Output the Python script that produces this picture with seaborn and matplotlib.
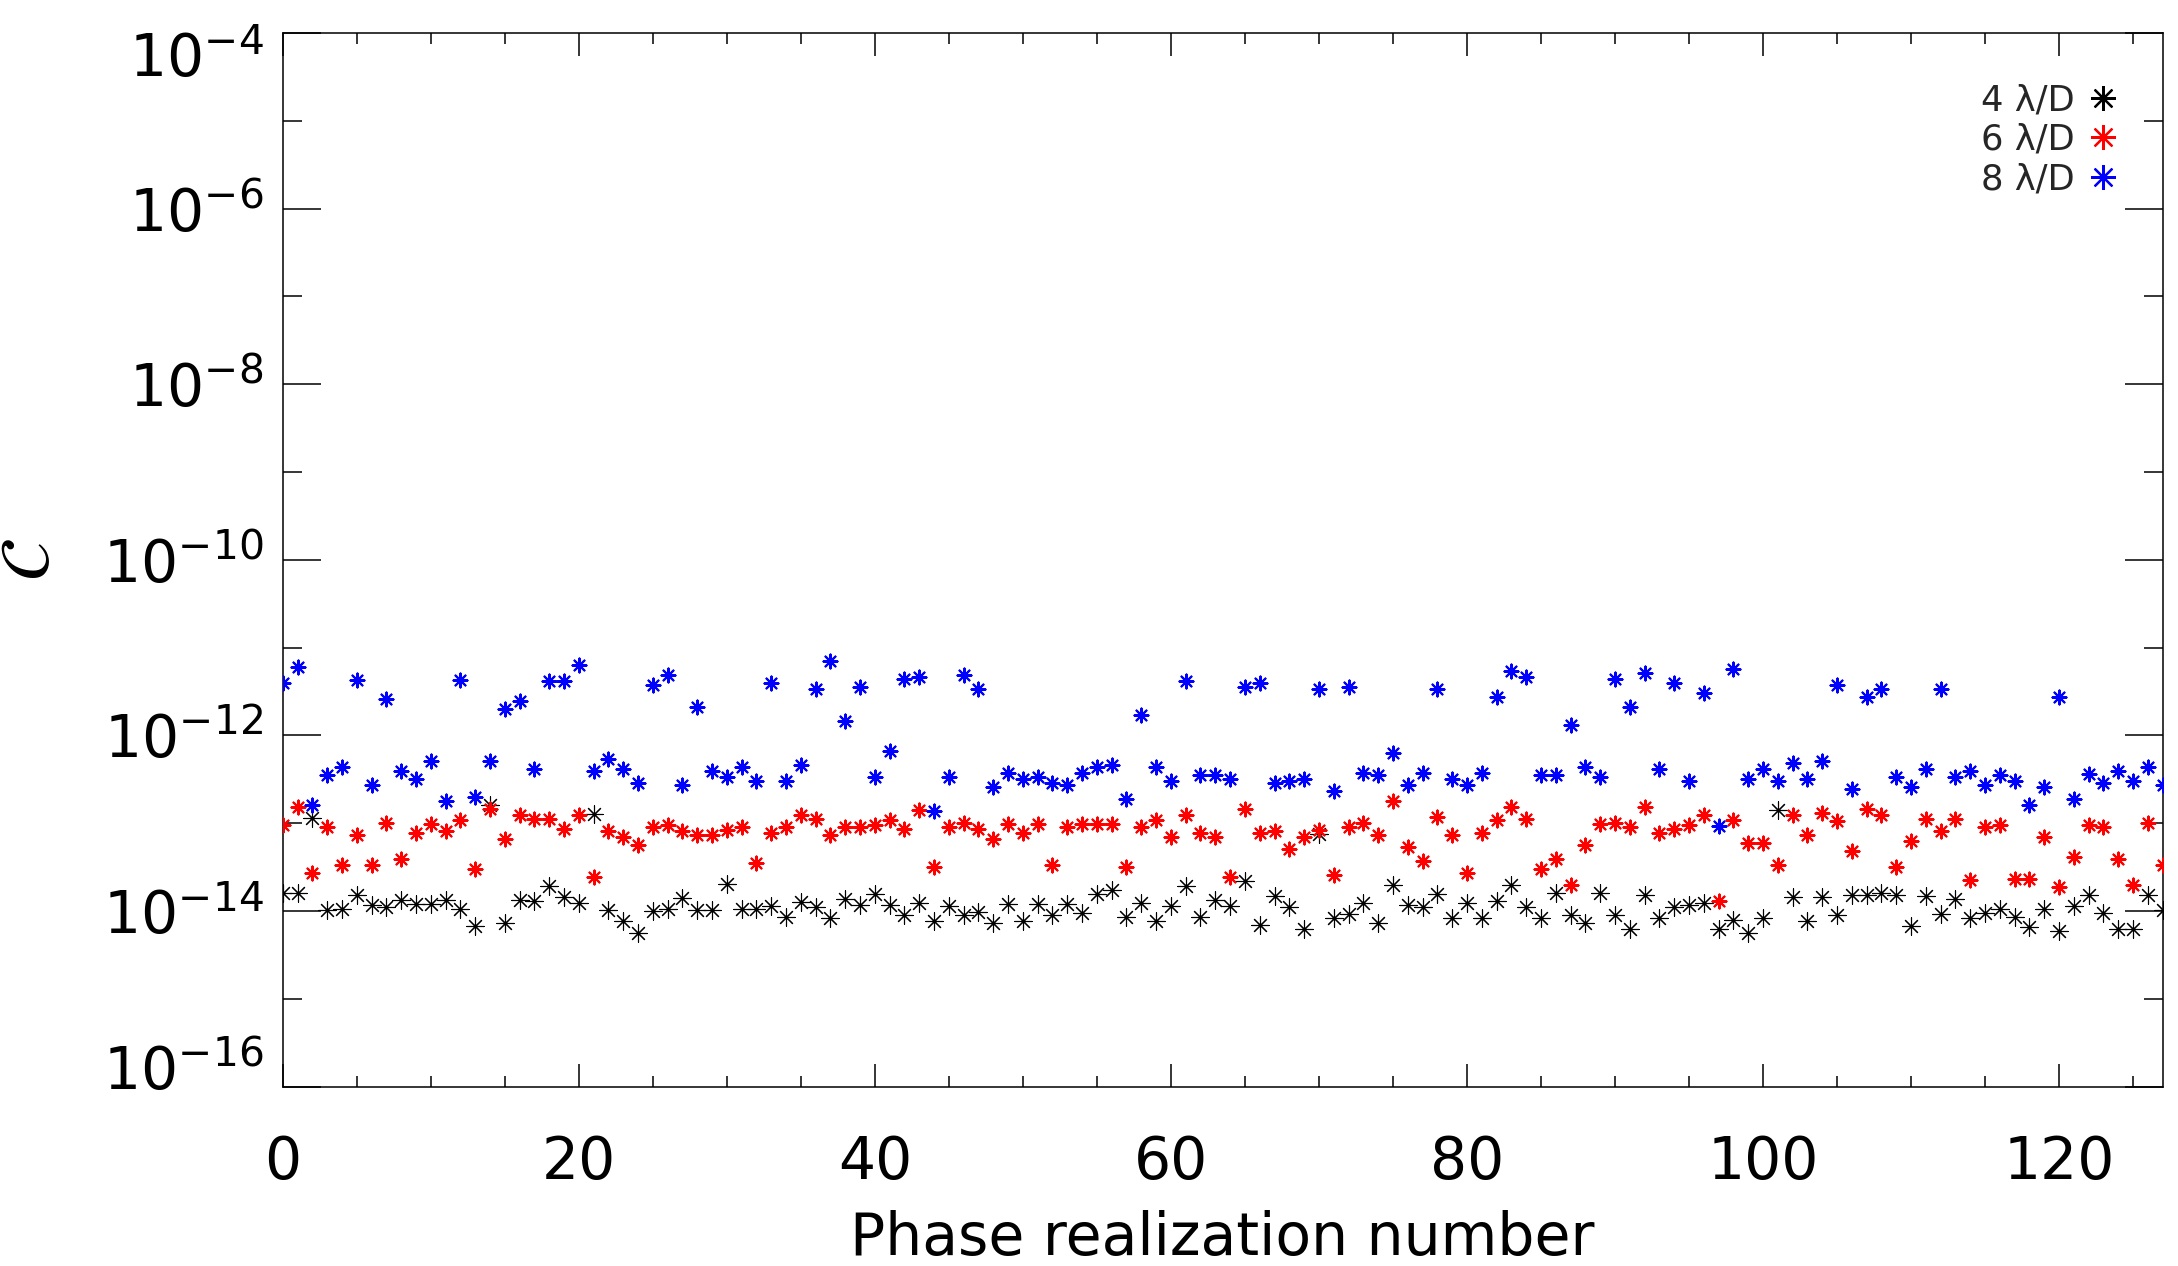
import numpy as np
import pandas as pd
import matplotlib
matplotlib.use("Agg")
import matplotlib.pyplot as plt
import matplotlib.transforms as mtransforms
import seaborn as sns
from matplotlib.ticker import FixedLocator, FixedFormatter, NullFormatter, MultipleLocator
from matplotlib.lines import Line2D

# ---------------- data ----------------
realization = list(range(128))

c_4 = [1.60e-14, 1.60e-14, 1.15e-13, 1.02e-14, 1.06e-14, 1.51e-14, 1.16e-14, 1.11e-14, 1.32e-14, 1.19e-14,
       1.19e-14, 1.32e-14, 1.06e-14, 6.7e-15, 1.60e-13, 7.35e-15, 1.34e-14, 1.29e-14, 1.92e-14, 1.44e-14,
       1.23e-14, 1.26e-13, 1.02e-14, 7.6e-15, 5.6e-15, 1.00e-14, 1.06e-14, 1.42e-14, 1.03e-14, 1.03e-14,
       2.05e-14, 1.06e-14, 1.06e-14, 1.14e-14, 8.5e-15, 1.26e-14, 1.11e-14, 8.2e-15, 1.38e-14, 1.18e-14,
       1.57e-14, 1.16e-14, 8.9e-15, 1.23e-14, 7.6e-15, 1.14e-14, 8.9e-15, 9.7e-15, 7.3e-15, 1.19e-14,
       7.6e-15, 1.19e-14, 8.9e-15, 1.19e-14, 9.5e-15, 1.55e-14, 1.72e-14, 8.5e-15, 1.23e-14, 7.6e-15,
       1.13e-14, 1.92e-14, 8.5e-15, 1.32e-14, 1.13e-14, 2.19e-14, 7.0e-15, 1.48e-14, 1.11e-14, 6.3e-15,
       7.59e-14, 8.2e-15, 9.3e-15, 1.23e-14, 7.35e-15, 1.99e-14, 1.16e-14, 1.11e-14, 1.55e-14, 8.2e-15,
       1.23e-14, 8.2e-15, 1.30e-14, 1.99e-14, 1.11e-14, 8.3e-15, 1.60e-14, 9.06e-15, 7.3e-15, 1.60e-14,
       9.06e-15, 6.3e-15, 1.53e-14, 8.3e-15, 1.11e-14, 1.16e-14, 1.24e-14, 6.2e-15, 7.8e-15, 5.6e-15,
       8.2e-15, 1.40e-13, 1.44e-14, 7.6e-15, 1.44e-14, 9.06e-15, 1.53e-14, 1.51e-14, 1.60e-14, 1.51e-14,
       6.7e-15, 1.47e-14, 9.3e-15, 1.38e-14, 8.3e-15, 9.55e-15, 1.06e-14, 8.5e-15, 6.6e-15, 1.06e-14,
       5.9e-15, 1.14e-14, 1.51e-14, 9.55e-15, 6.3e-15, 6.3e-15, 1.51e-14, 1.02e-14]

c_6 = [9.4e-14, 1.53e-13, 2.70e-14, 9.0e-14, 3.31e-14, 7.26e-14, 3.31e-14, 1.01e-13, 3.94e-14, 7.78e-14,
       9.7e-14, 8.13e-14, 1.08e-13, 3.03e-14, 1.46e-13, 6.53e-14, 1.25e-13, 1.10e-13, 1.10e-13, 8.5e-14,
       1.25e-13, 2.43e-14, 8.13e-14, 6.95e-14, 5.58e-14, 9.0e-14, 9.6e-14, 8.13e-14, 7.26e-14, 7.26e-14,
       8.28e-14, 9.0e-14, 3.52e-14, 7.78e-14, 9.0e-14, 1.25e-13, 1.10e-13, 7.26e-14, 9.0e-14, 9.0e-14,
       9.6e-14, 1.08e-13, 8.5e-14, 1.40e-13, 3.16e-14, 9.0e-14, 1.01e-13, 8.65e-14, 6.53e-14, 9.7e-14,
       7.78e-14, 9.7e-14, 3.31e-14, 9.0e-14, 9.7e-14, 9.7e-14, 9.7e-14, 3.16e-14, 9.0e-14, 1.08e-13,
       6.95e-14, 1.25e-13, 7.78e-14, 6.95e-14, 2.43e-14, 1.44e-13, 7.78e-14, 8.13e-14, 5.04e-14, 6.95e-14,
       8.28e-14, 2.54e-14, 9.0e-14, 1.01e-13, 7.26e-14, 1.79e-13, 5.35e-14, 3.71e-14, 1.17e-13, 7.26e-14,
       2.70e-14, 7.78e-14, 1.08e-13, 1.53e-13, 1.10e-13, 3.03e-14, 3.94e-14, 1.99e-14, 5.58e-14, 9.7e-14,
       1.01e-13, 9.0e-14, 1.53e-13, 7.78e-14, 8.5e-14, 9.6e-14, 1.25e-13, 1.29e-14, 1.08e-13, 6.0e-14,
       6.0e-14, 3.31e-14, 1.25e-13, 7.26e-14, 1.32e-13, 1.06e-13, 4.82e-14, 1.46e-13, 1.25e-13, 3.16e-14,
       6.25e-14, 1.10e-13, 8.13e-14, 1.10e-13, 2.23e-14, 9.0e-14, 9.6e-14, 2.33e-14, 2.33e-14, 6.95e-14,
       1.87e-14, 4.12e-14, 9.6e-14, 9.0e-14, 3.94e-14, 1.99e-14, 1.01e-13, 3.31e-14]

c_8 = [3.94e-12, 6.0e-12, 1.62e-13, 3.56e-13, 4.36e-13, 4.31e-12, 2.74e-13, 2.57e-12, 3.89e-13, 3.15e-13,
       5.10e-13, 1.77e-13, 4.31e-12, 1.99e-13, 5.10e-13, 1.98e-12, 2.44e-12, 4.17e-13, 4.16e-12, 4.16e-12,
       6.38e-12, 3.93e-13, 5.42e-13, 4.17e-13, 2.89e-13, 3.78e-12, 4.91e-12, 2.74e-13, 2.10e-12, 3.93e-13,
       3.35e-13, 4.36e-13, 3.02e-13, 3.94e-12, 3.02e-13, 4.63e-13, 3.40e-12, 7.03e-12, 1.46e-12, 3.55e-12,
       3.35e-13, 6.6e-13, 4.42e-12, 4.62e-12, 1.37e-13, 3.35e-13, 4.91e-12, 3.34e-12, 2.58e-13, 3.72e-13,
       3.15e-13, 3.35e-13, 2.89e-13, 2.74e-13, 3.72e-13, 4.36e-13, 4.63e-13, 1.87e-13, 1.69e-12, 4.36e-13,
       2.99e-13, 4.16e-12, 3.56e-13, 3.56e-13, 3.15e-13, 3.55e-12, 3.94e-12, 2.86e-13, 3.02e-13, 3.21e-13,
       3.34e-12, 2.32e-13, 3.55e-12, 3.72e-13, 3.56e-13, 6.29e-13, 2.74e-13, 3.72e-13, 3.34e-12, 3.21e-13,
       2.74e-13, 3.72e-13, 2.73e-12, 5.41e-12, 4.62e-12, 3.56e-13, 3.56e-13, 1.30e-12, 4.36e-13, 3.35e-13,
       4.34e-12, 2.10e-12, 5.13e-12, 4.17e-13, 3.94e-12, 2.99e-13, 3.04e-12, 9.3e-14, 5.65e-12, 3.15e-13,
       4.17e-13, 2.99e-13, 4.84e-13, 3.15e-13, 5.10e-13, 3.78e-12, 2.43e-13, 2.73e-12, 3.34e-12, 3.35e-13,
       2.58e-13, 4.17e-13, 3.34e-12, 3.35e-13, 3.93e-13, 2.74e-13, 3.56e-13, 3.02e-13, 1.62e-13, 2.58e-13,
       2.73e-12, 1.87e-13, 3.6e-13, 2.86e-13, 3.93e-13, 2.99e-13, 4.36e-13, 2.74e-13]

separations = ["4 λ/D", "6 λ/D", "8 λ/D"]
x_tick_values = [0, 20, 40, 60, 80, 100, 120]
y_tick_exponents = [-16, -14, -12, -10, -8, -6, -4]
y_minor_exponents = [-15, -13, -11, -9, -7, -5]
x_label = "Phase realization number"
y_label = r"$\mathcal{C}$"

# ---------------- figure ----------------
sns.set_theme(style="ticks")
plt.rcParams["font.family"] = ["DejaVu Sans"]
plt.rcParams["mathtext.fontset"] = "dejavusans"

W, H = 2178, 1266
fig = plt.figure(figsize=(W / 100, H / 100), dpi=100)
ax_l, ax_r, ax_t, ax_b = 282.7, 2162.7, 33.0, 1086.5
ax = fig.add_axes([ax_l / W, 1 - ax_b / H, (ax_r - ax_l) / W, (ax_b - ax_t) / H])
ax.set_facecolor("white")
ax.set_yscale("log")

df = pd.DataFrame({
    "n": realization * 3,
    "C": c_4 + c_6 + c_8,
    "sep": [separations[0]] * len(c_4) + [separations[1]] * len(c_6) + [separations[2]] * len(c_8),
})

colors = ["black", "#ff0000", "#0000ff"]
msizes = [12.5, 10.0, 10.0]
mlw = [0.8, 1.5, 1.5]
star = (8, 2, 0)

for sep, col, ms, lw in zip(separations, colors, msizes, mlw):
    sub = df[df["sep"] == sep]
    sns.scatterplot(data=sub, x="n", y="C", marker=star, color=col, s=ms ** 2,
                    linewidth=lw, ax=ax, legend=False, zorder=3)

ax.set_xlim(0, 127)
ax.set_ylim(1e-16, 1e-4)

ax.xaxis.set_major_locator(FixedLocator(x_tick_values))
ax.xaxis.set_major_formatter(FixedFormatter([str(v) for v in x_tick_values]))
ax.xaxis.set_minor_locator(MultipleLocator(5))
ax.yaxis.set_major_locator(FixedLocator([10.0 ** e for e in y_tick_exponents]))
ax.yaxis.set_major_formatter(FixedFormatter([r"$10^{%d}$" % e for e in y_tick_exponents]))
ax.yaxis.set_minor_locator(FixedLocator([10.0 ** e for e in y_minor_exponents]))
ax.yaxis.set_minor_formatter(NullFormatter())

for sp in ax.spines.values():
    sp.set_linewidth(1.1)
    sp.set_color("black")
    sp.set_visible(True)

ax.tick_params(which="both", direction="in", top=True, right=True, width=1.1, colors="black")
ax.tick_params(axis="x", which="major", length=16.5, pad=34, labelsize=42)
ax.tick_params(axis="x", which="minor", length=8)
ax.tick_params(axis="y", which="major", length=27.5, pad=14, labelsize=42)
ax.tick_params(axis="y", which="minor", length=13.7)

# keep the end labels inside the axis span, like the original
ticks = ax.yaxis.get_major_ticks()
lab_bottom = ticks[0].label1
lab_top = ticks[-1].label1
lab_bottom.set_transform(lab_bottom.get_transform() +
                         mtransforms.ScaledTranslation(0, 0.20, fig.dpi_scale_trans))
lab_top.set_transform(lab_top.get_transform() +
                      mtransforms.ScaledTranslation(0, -0.21, fig.dpi_scale_trans))

ax.set_xlabel(x_label, fontsize=42, labelpad=14, color="black")
ax.set_ylabel(y_label, fontsize=50, rotation=90, color="black")
ax.yaxis.set_label_coords(-0.117, 0.5)

handles = [Line2D([], [], linestyle="none", marker=star, color=c, markersize=18,
                  markeredgewidth=1.6) for c in colors]
ax.legend(handles, separations, loc="upper right", bbox_to_anchor=(0.9762, 0.952),
          frameon=False, markerfirst=False, fontsize=25.5, handlelength=0.82,
          handletextpad=0.4, labelspacing=0.15, borderpad=0, borderaxespad=0)

fig.savefig("out.png", dpi=100, facecolor="white")
